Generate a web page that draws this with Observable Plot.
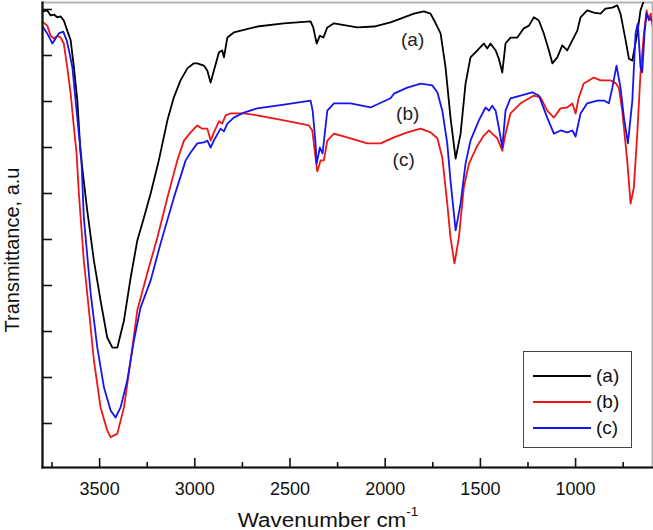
<!DOCTYPE html>
<html>
<head>
<meta charset="utf-8">
<script src="https://cdn.jsdelivr.net/npm/d3@7"></script>
<script src="https://cdn.jsdelivr.net/npm/@observablehq/plot@0.6"></script>
<style>
  body { margin: 0; background: #fff; }
  #wrap { position: relative; width: 653px; height: 530px; font-family: Arial, "Liberation Sans", sans-serif; color: #111; }
  #ylab { position: absolute; left: 12px; top: 250px; transform: translate(-50%, -50%) rotate(-90deg); white-space: nowrap; font-size: 20px; }
  #xlab { position: absolute; left: 328px; top: 520px; transform: translate(-50%, -50%) scaleX(1.12); white-space: nowrap; font-size: 20px; }
  #xlab sup { font-size: 0.6em; position: relative; top: -0.25em; }
  #legend { position: absolute; left: 523px; top: 351px; width: 109px; height: 97px; box-sizing: border-box; border: 1px solid #444; background: #fff; }
  .row { position: absolute; left: 0; width: 100%; height: 0; }
  .row .ln { position: absolute; left: 9px; width: 58px; top: -1px; height: 0; border-top: 2px solid; }
  .row .tx { position: absolute; left: 72px; top: -11px; font-size: 19px; line-height: 22px; }
</style>
</head>
<body>
<div id="wrap">
  <div id="chart"></div>
  <div id="ylab">Transmittance, a.u</div>
  <div id="xlab">Wavenumber cm<sup>-1</sup></div>
  <div id="legend"></div>
</div>
<script>
// Series (a): black
const aW = [3796,3775,3757,3740,3722,3705,3688,3670,3652,3635,3617,3600,3565,3530,3495,3460,3433,3407,3372,3337,3302,3267,3232,3189,3144,3110,3075,3039,3005,2987,2952,2934,2917,2900,2873,2856,2847,2829,2795,2672,2532,2392,2378,2360,2343,2325,2304,2269,2147,2059,1972,1919,1849,1797,1762,1735,1709,1683,1657,1630,1604,1578,1552,1516,1482,1464,1447,1420,1403,1385,1368,1342,1306,1272,1245,1219,1193,1167,1140,1122,1096,1070,1044,1017,991,974,939,904,869,843,807,781,764,737,720,702,676,659,641,627];
const aT = [99.6,99.8,98.7,98.9,98.3,98.5,97.6,95.4,93.3,87.4,80.2,68.7,56.3,45.4,36.7,28.7,26.5,26.5,32.4,41.7,49.8,54.8,60.0,67.2,75.9,80.9,84.6,87.2,88.3,88.3,87.8,86.7,84.1,86.7,90.7,91.1,89.6,93.9,95.0,96.3,97.0,97.4,96.1,92.6,94.3,93.9,96.1,97.0,96.1,96.3,97.2,98.0,99.1,99.6,99.1,97.0,94.8,87.4,76.5,67.6,73.0,83.9,89.6,91.1,92.6,91.5,92.6,91.1,89.3,86.3,92.6,93.9,93.9,95.9,96.5,98.3,97.6,94.8,91.1,88.3,89.6,92.2,91.1,93.3,95.4,98.3,99.8,99.3,99.1,100.2,100.4,100.9,99.1,93.3,89.3,88.9,94.8,99.8,102,104];

// Series (b): red
const bW = [3796,3775,3757,3740,3722,3705,3688,3670,3652,3635,3621,3609,3583,3556,3530,3495,3460,3442,3407,3372,3337,3302,3250,3197,3144,3092,3057,3022,2987,2961,2934,2917,2900,2873,2856,2838,2812,2742,2672,2532,2401,2383,2366,2357,2339,2322,2304,2269,2182,2094,2024,1954,1884,1814,1762,1726,1700,1674,1657,1636,1613,1587,1560,1516,1482,1455,1438,1411,1385,1368,1342,1289,1219,1184,1149,1114,1079,1044,1017,1000,983,957,904,869,816,790,773,755,729,711,694,676,659,641,627,615,606,596];
const bT = [97.2,96.5,94.3,93.7,94.3,93.9,92.6,87.4,81.7,74.3,68.7,60.0,45.4,34.6,23.7,13.5,8.5,7.0,7.8,13.5,23.7,34.6,42.6,50.4,59.1,67.2,71.5,73.3,74.8,74.1,74.1,71.5,73.3,75.7,75.2,77.0,77.4,77.4,77.0,75.9,74.8,73.7,67.8,64.8,67.2,67.2,71.5,73.0,72.0,70.9,70.9,72.2,73.3,74.1,73.3,72.0,67.8,57.8,50.4,44.8,50.4,61.3,66.5,70.4,72.6,73.7,73.0,72.0,69.3,73.0,77.4,79.6,81.3,80.9,78.0,76.5,78.5,78.7,79.6,77.4,80.9,83.9,85.2,84.6,84.6,84.0,83.0,78.0,67.2,57.8,61.3,73.0,86.1,94.8,99.8,97.6,99.1,96.5];

// Series (c): blue
const cW = [3796,3775,3748,3731,3714,3691,3673,3661,3643,3626,3609,3596,3583,3547,3512,3477,3442,3416,3390,3355,3320,3285,3232,3180,3110,3048,3022,2987,2952,2934,2917,2900,2865,2847,2829,2795,2742,2672,2532,2392,2381,2367,2360,2343,2329,2304,2269,2182,2077,1972,1954,1884,1814,1753,1726,1700,1674,1657,1630,1604,1578,1552,1508,1473,1455,1438,1420,1403,1385,1368,1342,1289,1228,1193,1149,1114,1079,1044,1017,1000,974,939,886,851,825,807,785,764,746,725,702,685,673,659,650,638,627,615,597];
const cT = [96.1,94.8,92.6,93.7,94.8,95.2,93.3,91.1,87.4,80.2,73.0,67.8,54.8,38.3,26.5,17.8,12.8,11.3,13.5,19.3,28.0,35.2,41.1,49.1,59.1,67.2,68.9,70.9,71.1,71.5,70.0,71.5,74.1,73.5,75.2,76.5,77.6,78.5,79.3,80.2,78.0,71.5,66.5,70.0,68.7,78.0,79.6,79.6,78.7,80.7,81.7,83.0,83.9,83.5,82.0,78.0,70.9,62.8,52.0,57.8,66.5,71.5,75.9,78.7,78.0,79.1,78.0,74.3,70.0,78.0,80.7,81.3,82.0,81.3,76.5,73.0,73.7,73.3,73.7,72.4,77.4,79.6,80.2,80.2,79.6,83.0,87.8,83.0,76.5,70.9,80.2,94.8,97.0,87.4,86.3,94.8,99.1,98.0,97.6];

const seriesNames = ["(a)", "(b)", "(c)"];
const seriesColors = ["#000000", "#ee1515", "#1515ee"];

// In-plot annotation labels (wavenumber, transmittance)
const annText = ["(a)", "(b)", "(c)"];
const annW = [1856, 1882, 1903];
const annT = [93.3, 77.4, 67.2];

// Axis ticks
const xMajor = [3500, 3000, 2500, 2000, 1500, 1000];
const xMinor = [3750, 3250, 2750, 2250, 1750, 1250, 750];
const yTicks = [10, 20, 30, 40, 50, 60, 70, 80, 90, 100];
const xDomain = [3800, 596];
const yDomain = [0.435, 101.52];

const rows = [];
[[aW, aT], [bW, bT], [cW, cT]].forEach(([W, T], i) => {
  W.forEach((w, j) => rows.push({s: seriesNames[i], w, t: T[j]}));
});
const ann = annText.map((t, i) => ({t, w: annW[i], v: annT[i]}));

const plot = Plot.plot({
  width: 653,
  height: 530,
  marginLeft: 42,
  marginRight: 1,
  marginTop: 2,
  marginBottom: 63,
  style: {fontFamily: "Arial, 'Liberation Sans', sans-serif", color: "#111", background: "#fff"},
  x: {domain: xDomain, axis: null},
  y: {domain: yDomain, axis: null},
  color: {domain: seriesNames, range: seriesColors},
  marks: [
    Plot.frame({stroke: "#b4b4b4", strokeWidth: 2}),
    Plot.line(rows, {x: "w", y: "t", z: "s", stroke: "s", strokeWidth: 1.8, clip: true}),
    Plot.text(ann, {x: "w", y: "v", text: "t", fontSize: 19, fill: "#222"}),
    Plot.axisX({ticks: xMajor, tickSize: 9, dy: -9, fill: "none", stroke: "#111", strokeWidth: 1.6, label: null}),
    Plot.axisX({ticks: xMinor, tickSize: 5, dy: -5, fill: "none", stroke: "#111", strokeWidth: 1.6, label: null}),
    Plot.axisX({ticks: xMajor, tickSize: 0, tickPadding: 15, fontSize: 18, tickFormat: d => String(d), label: null, fill: "#111"}),
    Plot.axisY({ticks: yTicks, tickSize: 10, dx: 10, fill: "none", stroke: "#111", strokeWidth: 1.6, label: null}),
    Plot.frame({anchor: "left", stroke: "#111", strokeWidth: 2.2}),
    Plot.frame({anchor: "bottom", stroke: "#111", strokeWidth: 2.2})
  ]
});
document.getElementById("chart").appendChild(plot);

// Legend
const lg = document.getElementById("legend");
const rowTops = [24, 50, 76];
seriesNames.forEach((n, i) => {
  const r = document.createElement("div");
  r.className = "row";
  r.style.top = rowTops[i] + "px";
  const l = document.createElement("div");
  l.className = "ln";
  l.style.borderTopColor = seriesColors[i];
  const t = document.createElement("div");
  t.className = "tx";
  t.textContent = n;
  r.appendChild(l); r.appendChild(t);
  lg.appendChild(r);
});
</script>
</body>
</html>
